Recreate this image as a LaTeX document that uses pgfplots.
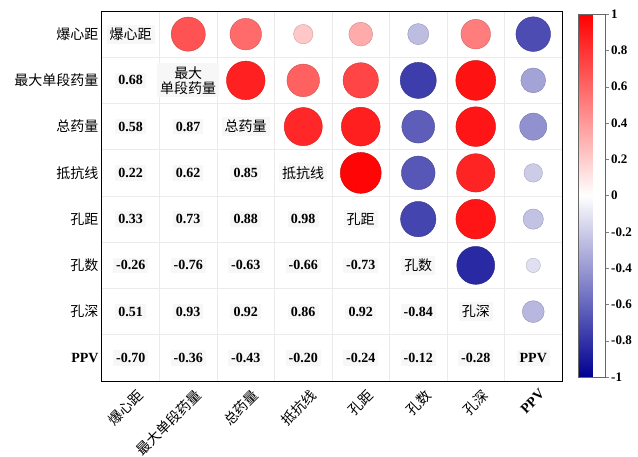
\documentclass[border=0pt]{standalone}
\usepackage{pgfplots}
\usepackage{pgfplotstable}
\pgfplotsset{compat=1.18}
\usepackage{fontspec}
\setmainfont{Liberation Serif}
\newfontfamily\cjk{Noto Sans CJK SC}

\pgfplotstableread{
x y r
2 1 0.68
3 1 0.58
4 1 0.22
5 1 0.33
6 1 -0.26
7 1 0.51
8 1 -0.70
3 2 0.87
4 2 0.62
5 2 0.73
6 2 -0.76
7 2 0.93
8 2 -0.36
4 3 0.85
5 3 0.88
6 3 -0.63
7 3 0.92
8 3 -0.43
5 4 0.98
6 4 -0.66
7 4 0.86
8 4 -0.20
6 5 -0.73
7 5 0.92
8 5 -0.24
7 6 -0.84
8 6 -0.12
8 7 -0.28
}\circles

\pgfplotstableread{
x y t
1 2 0.68
1 3 0.58
2 3 0.87
1 4 0.22
2 4 0.62
3 4 0.85
1 5 0.33
2 5 0.73
3 5 0.88
4 5 0.98
1 6 -0.26
2 6 -0.76
3 6 -0.63
4 6 -0.66
5 6 -0.73
1 7 0.51
2 7 0.93
3 7 0.92
4 7 0.86
5 7 0.92
6 7 -0.84
1 8 -0.70
2 8 -0.36
3 8 -0.43
4 8 -0.20
5 8 -0.24
6 8 -0.12
7 8 -0.28
}\lowertab

\begin{document}
\begin{tikzpicture}
\begin{axis}[
  at={(102pt,-381pt)}, anchor=south west,
  scale only axis, width=460pt, height=370pt,
  xmin=0.5, xmax=8.5, ymin=0.5, ymax=8.5, y dir=reverse,
  xtick={1,2,3,4,5,6,7,8}, ytick={1,2,3,4,5,6,7,8},
  xticklabels={{\cjk 爆心距},{\cjk 最大单段药量},{\cjk 总药量},{\cjk 抵抗线},{\cjk 孔距},{\cjk 孔数},{\cjk 孔深},{\bfseries PPV}},
  yticklabels={{\cjk 爆心距},{\cjk 最大单段药量},{\cjk 总药量},{\cjk 抵抗线},{\cjk 孔距},{\cjk 孔数},{\cjk 孔深},{\bfseries PPV}},
  xticklabel style={rotate=45, anchor=north east, font=\fontsize{14}{14}\selectfont, inner sep=1pt, yshift=-8pt},
  yticklabel style={font=\fontsize{14}{14}\selectfont},
  major tick length=0pt,
  minor xtick={1.5,2.5,3.5,4.5,5.5,6.5,7.5},
  minor ytick={1.5,2.5,3.5,4.5,5.5,6.5,7.5},
  minor tick length=0pt,
  xminorgrids, yminorgrids,
  minor grid style={black!8, line width=0.6pt},
  axis line style={line width=1pt},
  colormap={corr}{rgb=(0,0,0.57) rgb=(1,1,1) rgb=(1,0,0)},
  point meta min=-1, point meta max=1,
  colorbar,
  colorbar style={
    scale only axis, width=27pt, height=363pt,
    at={(parent axis.north east)}, anchor=north west,
    xshift=7.5pt, yshift=-3pt,
    ytick={-1,-0.8,-0.6,-0.4,-0.2,0,0.2,0.4,0.6,0.8,1},
    ytick pos=right, yticklabel pos=right,
    tick align=outside, major tick length=4pt,
    axis line style={black!60, line width=0.8pt},
    yticklabel style={font=\bfseries\fontsize{13}{13}\selectfont, /pgf/number format/assume math mode=true, inner sep=2pt},
  },
]
\addplot[scatter, only marks, mark=*,
  point meta=\thisrow{r},
  visualization depends on={20.7*sqrt(abs(\thisrow{r})) \as \rad},
  scatter/@pre marker code/.append style={/tikz/mark size=\rad}]
  table[x=x, y=y]{\circles};
\addplot[draw=none, mark=none, nodes near coords, point meta=explicit symbolic,
  nodes near coords style={anchor=center, font=\bfseries\fontsize{14}{14}\selectfont, fill=black!3, inner sep=3pt}]
  table[x=x, y=y, meta=t]{\lowertab};
\begin{scope}[every node/.style={font=\cjk\fontsize{14}{15}\selectfont, fill=black!3, inner sep=3pt}]
\node at (axis cs:1,1) {爆心距};
\node[align=center] at (axis cs:2,2) {最大\\单段药量};
\node at (axis cs:3,3) {总药量};
\node at (axis cs:4,4) {抵抗线};
\node at (axis cs:5,5) {孔距};
\node at (axis cs:6,6) {孔数};
\node at (axis cs:7,7) {孔深};
\node[font=\bfseries\fontsize{14}{14}\selectfont] at (axis cs:8,8) {PPV};
\end{scope}
\end{axis}
\pgfresetboundingbox
\path[use as bounding box] (0,0) rectangle (638pt,-457pt);
\end{tikzpicture}
\end{document}
